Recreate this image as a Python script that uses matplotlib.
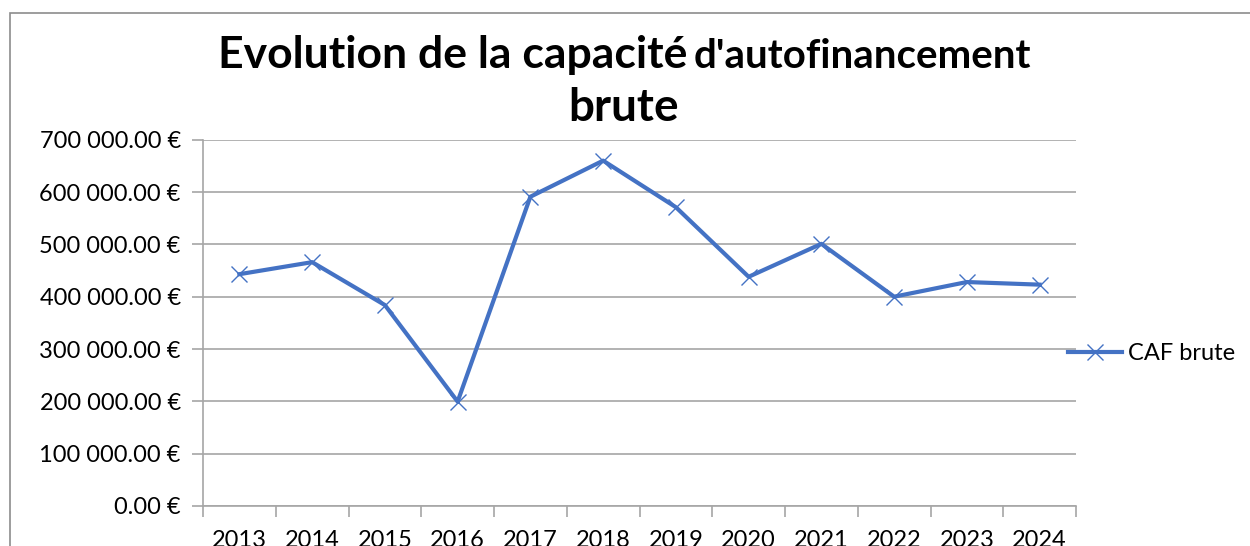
import matplotlib.pyplot as plt
from matplotlib.patches import Rectangle
from matplotlib.ticker import FuncFormatter, MultipleLocator, FixedLocator

plt.rcParams["font.family"] = ["Lato", "DejaVu Sans"]

# données
years = ["2013", "2014", "2015", "2016", "2017", "2018",
         "2019", "2020", "2021", "2022", "2023", "2024"]
caf_brute = [443000, 466000, 384000, 199500, 591000, 660000,
             571000, 438000, 501000, 400000, 428000, 423000]

BLUE = "#4472C4"
GRID = "#A6A6A6"

W, H = 1250, 546


def euro(v, pos):
    s = f"{v:,.2f}".replace(",", " ")
    return f"{s} €"


fig = plt.figure(figsize=(W / 100, H / 100), dpi=100)

# cadre du graphique (coupé à droite et en bas)
fig.patches.append(Rectangle((10 / W, -0.1), 1.2, 1 - 13 / H + 0.1,
                             transform=fig.transFigure, fill=False,
                             edgecolor="#8C8C8C", linewidth=1.2))

ax = fig.add_axes([203 / W, 40 / H, 873 / W, 366.3 / H])
x = list(range(len(years)))
ax.plot(x, caf_brute, color=BLUE, linewidth=3, marker="x",
        markersize=12, markeredgewidth=1.0, label="CAF brute")

ax.set_xlim(-0.5, len(years) - 0.5)
ax.set_ylim(0, 700000)
ax.yaxis.set_major_locator(MultipleLocator(100000))
ax.yaxis.set_major_formatter(FuncFormatter(euro))
ax.grid(axis="y", color=GRID, linewidth=1.2)
ax.set_axisbelow(True)

ax.set_xticks(x)
ax.set_xticklabels(years)
ax.xaxis.set_minor_locator(FixedLocator([i - 0.5 for i in range(len(years) + 1)]))
ax.tick_params(axis="x", which="major", length=0, pad=17, labelsize=17)
ax.tick_params(axis="x", which="minor", length=8, color=GRID, width=1.2)
ax.tick_params(axis="y", length=8, color=GRID, width=1.2, pad=8, labelsize=17)

for side in ["top", "right"]:
    ax.spines[side].set_visible(False)
for side in ["left", "bottom"]:
    ax.spines[side].set_color(GRID)
    ax.spines[side].set_linewidth(1.2)

# titre
fig.text(687 / W, 1 - 68 / H, "Evolution de la capacité", fontsize=32,
         fontweight="bold", ha="right", va="baseline")
fig.text(694 / W, 1 - 68 / H, "d'autofinancement", fontsize=29,
         fontweight="bold", ha="left", va="baseline")
fig.text(624 / W, 1 - 121 / H, "brute", fontsize=33,
         fontweight="bold", ha="center", va="baseline")

ax.legend(loc="center left", bbox_to_anchor=(1068 / W, 1 - 354 / H),
          bbox_transform=fig.transFigure, frameon=False, fontsize=17,
          handlelength=2.3, handletextpad=0.25, borderpad=0, borderaxespad=0)

fig.savefig("out.png", dpi=100)
